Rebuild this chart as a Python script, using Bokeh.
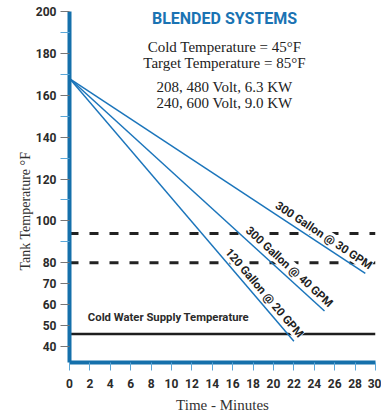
import math
from bokeh.plotting import figure
from bokeh.models import Range1d, FixedTicker, Label, Title
from bokeh.embed import file_html
from bokeh.resources import INLINE

# ---- data ----
start_temp = 168
time_end = [29, 25, 22]
end_temp = [75, 57, 42.5]
series_labels = ["300 Gallon @ 30 GPM", "300 Gallon @ 40 GPM", "120 Gallon @ 20 GPM"]
dashed_levels = [94, 80]
cold_supply = 46
cold_label = "Cold Water Supply Temperature"
y_ticks = [40, 50, 60, 70, 80, 100, 120, 140, 160, 180, 200]
y_minor = [90, 110, 130, 150, 170, 190]
x_ticks = list(range(0, 31, 2))
title_text = "BLENDED SYSTEMS"
subtitle = ["Cold Temperature = 45°F", "Target Temperature = 85°F",
            "208, 480 Volt, 6.3 KW", "240, 600 Volt, 9.0 KW"]
x_label = "Time - Minutes"
y_label = "Tank Temperature °F"

# ---- layout ----
W, H = 381, 415
ML, MR, MT, MB = 69, 6, 11, 53
X0, X1 = 0, 30
Y0, Y1 = 32.4, 200
fw = W - ML - MR
fh = H - MT - MB
px = fw / (X1 - X0)
py = fh / (Y1 - Y0)

COND = "Roboto"
SERIF = "Liberation Serif"
BLUE = "#1b75bb"
AXIS_BLUE = "#1570ab"
LIGHT_BLUE = "#5ba7d8"

p = figure(width=W, height=H, x_range=Range1d(X0, X1), y_range=Range1d(Y0, Y1),
           output_backend="svg", toolbar_location=None,
           min_border_left=ML, min_border_right=MR, min_border_top=MT, min_border_bottom=MB)
p.outline_line_color = None
p.xgrid.grid_line_color = None
p.ygrid.grid_line_color = None
p.background_fill_color = "white"

# axes
for ax in (p.xaxis[0], p.yaxis[0]):
    ax.axis_line_color = AXIS_BLUE
    ax.axis_line_width = 4
    ax.major_label_text_font = COND
    ax.major_label_text_font_style = "bold"
    ax.major_label_text_font_size = "12px"
    ax.major_label_text_color = "#2b2b2b"

p.yaxis.ticker = FixedTicker(ticks=y_ticks, minor_ticks=y_minor)
p.yaxis.major_tick_line_color = "#777777"
p.yaxis.major_tick_out = 9
p.yaxis.major_tick_in = 0
p.yaxis.minor_tick_line_color = LIGHT_BLUE
p.yaxis.minor_tick_out = 9
p.yaxis.minor_tick_in = 0
p.yaxis.major_label_standoff = 4

p.xaxis.ticker = FixedTicker(ticks=x_ticks, minor_ticks=[])
p.xaxis.major_tick_line_color = LIGHT_BLUE
p.xaxis.major_tick_out = 8
p.xaxis.major_tick_in = 0
p.xaxis.minor_tick_line_color = None
p.xaxis.major_label_standoff = 8
p.xaxis.axis_label = x_label
p.xaxis.axis_label_text_font = SERIF
p.xaxis.axis_label_text_font_style = "normal"
p.xaxis.axis_label_text_font_size = "15px"
p.xaxis.axis_label_text_color = "#333333"
p.xaxis.axis_label_standoff = 6

# y axis label as a side title, shifted toward the bottom like the original
p.add_layout(Title(text=y_label, align="left", offset=92, text_font=SERIF,
                   text_font_style="normal", text_font_size="14px",
                   text_color="#333333", standoff=0), "left")

# reference levels
for lvl in dashed_levels:
    p.line([X0, X1], [lvl, lvl], line_color="#222222", line_width=3, line_dash="9 11")
p.line([X0, X1], [cold_supply, cold_supply], line_color="#1e1e1e", line_width=2.5)

p.add_layout(Label(x=1.8, y=cold_supply, y_offset=10, text=cold_label,
                   text_font=COND, text_font_style="bold", text_font_size="11.3px",
                   text_color="#2b2b2b", text_align="left", text_baseline="bottom"))

# heating/cooling curves
for te, tt, lab in zip(time_end, end_temp, series_labels):
    p.line([0, te], [start_temp, tt], line_color=BLUE, line_width=1.5)
    ang = -math.atan(((start_temp - tt) * py) / (te * px))
    p.add_layout(Label(x=te, y=tt, text=lab, angle=ang, x_offset=2, y_offset=1,
                       text_font=COND, text_font_style="bold", text_font_size="11.5px",
                       text_color="#222222", text_align="right", text_baseline="bottom",
                       background_fill_color="white"))

# title block
p.add_layout(Label(x=15.2, y=Y1 - 7 / py, text=title_text, text_font=COND, text_font_style="bold",
                   text_font_size="16px", text_color="#1a73b3", text_align="center",
                   text_baseline="middle"))
sub_off = [35, 51, 75, 91]
for s, off in zip(subtitle, sub_off):
    p.add_layout(Label(x=15.2, y=Y1 - off / py, text=s, text_font=SERIF, text_font_size="15px",
                       text_color="#222222", text_align="center", text_baseline="middle"))

open("out.html", "w").write(file_html(p, INLINE))
